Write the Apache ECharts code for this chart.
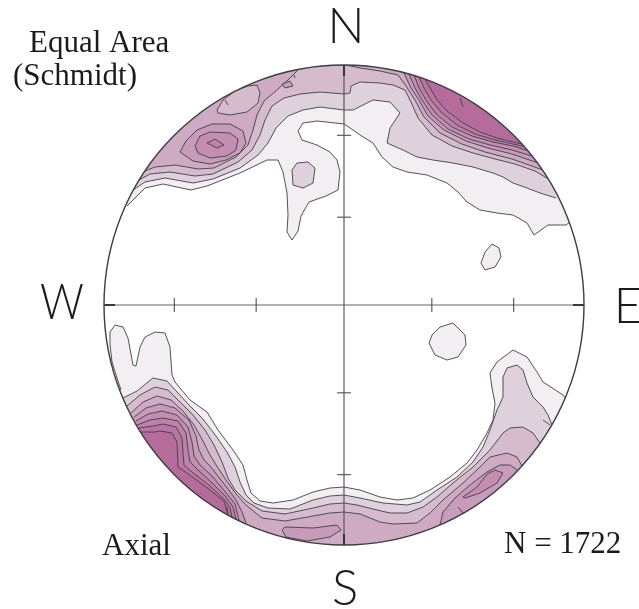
<!DOCTYPE html>
<html>
<head>
<meta charset="utf-8">
<script src="https://cdn.jsdelivr.net/npm/echarts@6/dist/echarts.min.js"></script>
<style>
  html, body { margin: 0; padding: 0; background: #ffffff; }
  #chart { width: 639px; height: 609px; }
</style>
</head>
<body>
<div id="chart"></div>
<script>
// Equal-area (Schmidt) net, lower hemisphere. Net coordinates: centre (0,0),
// primitive circle radius R, x toward E, y toward N.
const R = 240;

// Plunges marked on the N-S and E-W diameters.
const tickPlunges = [30, 60];

// Fill colours of the density levels, lowest to highest.
const levelColors = ['#f2eef2', '#dfd1db', '#d6bbcd', '#cfaac3', '#c99bba', '#c48db2', '#bf81aa', '#ba76a2', '#b56c9b'];
const lineColor = '#3d4146';

// ---- contour lines (net coordinates) ----
// Level 1
const n1 = [[-217,99],[-214,102],[-199,117],[-181,121],[-153,115],[-137,119],[-104,132],[-77,145],[-66,145],[-61,133],[-57,112],[-56,90],[-57,73],[-52,65],[-46,74],[-43,89],[-35,103],[-18,109],[-6,115],[-4,133],[-7,145],[-14,153],[-27,160],[-42,165],[-46,174],[-41,182],[-27,184],[-9,182],[0,181],[9,175],[16,170],[29,162],[38,148],[49,138],[63,133],[83,130],[103,122],[114,113],[123,103],[136,95],[153,92],[169,90],[183,82],[190,70],[204,80],[222,80],[226,83]];
const s1 = [[-223,-85],[-227,-73],[-232,-57],[-234,-40],[-234,-27],[-229,-20],[-221,-22],[-216,-33],[-211,-60],[-208,-61],[-204,-42],[-199,-32],[-189,-27],[-179,-28],[-174,-42],[-172,-70],[-169,-77],[-154,-95],[-137,-107],[-126,-125],[-111,-145],[-101,-160],[-97,-175],[-93,-188],[-84,-196],[-71,-198],[-51,-195],[-31,-187],[-14,-183],[0,-182],[16,-185],[36,-192],[53,-195],[69,-193],[86,-185],[106,-172],[123,-158],[133,-145],[143,-128],[149,-115],[151,-98],[148,-83],[146,-68],[153,-57],[169,-45],[183,-52],[193,-67],[199,-77],[219,-90],[223,-95]];
const ne1Isle = [[137,42],[141,53],[148,61],[155,57],[157,48],[151,38],[141,35]];
const e1Isle = [[85,-38],[88,-30],[96,-22],[109,-18],[121,-30],[122,-40],[114,-52],[103,-55],[91,-50]];
// Level 2
const n2 = [[-211,115],[-199,123],[-179,127],[-151,122],[-131,126],[-104,137],[-86,150],[-76,162],[-68,177],[-56,189],[-41,195],[-24,198],[0,195],[9,195],[29,205],[46,203],[56,192],[46,177],[43,162],[59,155],[73,148],[89,145],[109,142],[129,138],[149,132],[159,128],[169,122],[183,117],[196,112],[212,107]];
const s2 = [[-221,-93],[-207,-86],[-191,-73],[-177,-76],[-166,-88],[-154,-101],[-141,-114],[-128,-131],[-117,-147],[-109,-162],[-104,-177],[-98,-190],[-90,-198],[-76,-203],[-54,-204],[-31,-195],[-14,-191],[0,-190],[16,-193],[39,-198],[63,-200],[76,-197],[93,-185],[113,-172],[129,-157],[139,-142],[146,-125],[153,-105],[159,-92],[159,-72],[163,-63],[173,-60],[179,-65],[183,-78],[189,-92],[199,-102],[204,-110],[208,-120]];
const n2Isle = [[-52,135],[-47,142],[-36,143],[-29,137],[-31,122],[-41,117],[-51,120]];
// Level 3
const n3 = [[-205,125],[-194,131],[-174,133],[-149,129],[-131,131],[-106,143],[-92,155],[-84,170],[-79,185],[-72,199],[-60,207],[-44,211],[-24,213],[0,211],[6,212],[7,219],[16,223],[36,222],[49,220],[61,215],[67,203],[74,187],[88,170],[108,159],[129,152],[151,146],[171,141],[191,134],[206,125]];
const s3 = [[-217,-101],[-204,-90],[-189,-82],[-176,-85],[-164,-97],[-151,-110],[-139,-125],[-130,-140],[-122,-157],[-116,-173],[-109,-185],[-98,-196],[-82,-206],[-59,-209],[-31,-203],[-14,-199],[0,-198],[13,-200],[33,-205],[46,-208],[63,-208],[79,-202],[93,-192],[109,-178],[129,-162],[146,-145],[159,-128],[166,-123],[179,-122],[189,-128],[196,-138]];
const nw3Hollow = [[-127,195],[-121,205],[-109,214],[-96,219],[-87,220],[-84,212],[-86,202],[-97,193],[-114,190],[-126,192]];
// Level 4
const nw4 = [[-199,134],[-189,138],[-169,140],[-146,136],[-130,137],[-108,148],[-96,160],[-91,175],[-87,190],[-80,204],[-67,215],[-54,227],[-46,235]];
const ne4 = [[2,240],[16,237],[36,234],[54,230],[62,219],[71,205],[80,188],[96,172],[118,161],[141,153],[168,146],[199,135]];
const s4 = [[-213,-108],[-201,-97],[-187,-91],[-173,-95],[-161,-106],[-150,-120],[-141,-136],[-134,-150],[-126,-163],[-118,-175],[-108,-189],[-98,-200],[-82,-213],[-59,-216],[-31,-211],[-14,-208],[0,-207],[16,-209],[36,-217],[49,-219],[73,-218],[86,-208],[99,-195],[119,-178],[136,-162],[146,-152],[163,-148],[173,-152],[178,-161]];
// Level 5
const nw5 = [[-164,153],[-158,164],[-147,175],[-132,181],[-114,181],[-101,174],[-98,162],[-104,152],[-118,145],[-134,141],[-151,144]];
const nw5Isle = [[-62,221],[-54,224],[-51,219],[-59,217]];
const ne5 = [[60,232],[67,217],[75,205],[84,189],[100,175],[122,164],[144,157],[168,151],[197,141]];
const sw5 = [[-210,-112],[-198,-103],[-184,-99],[-169,-103],[-155,-115],[-148,-131],[-145,-145],[-140,-155],[-134,-161],[-130,-166],[-116,-184],[-108,-195],[-102,-207],[-98,-218]];
const s5Isle = [[-62,-225],[-59,-222],[-31,-223],[-7,-220],[-3,-225],[-14,-232],[-37,-236],[-58,-232]];
const se5 = [[96,-220],[99,-207],[111,-193],[126,-180],[143,-167],[156,-160],[166,-160],[173,-165]];
// Level 6
const nw6 = [[-149,159],[-144,169],[-134,173],[-114,172],[-106,166],[-108,155],[-117,149],[-134,147],[-146,152]];
const ne6 = [[65,231],[71,217],[78,205],[88,190],[104,176],[125,166],[146,160],[168,155],[194,147]];
const sw6 = [[-208,-116],[-196,-109],[-182,-106],[-167,-110],[-156,-122],[-152,-137],[-150,-151],[-144,-160],[-132,-171],[-117,-189],[-109,-199],[-105,-215]];
const se6 = [[119,-192],[133,-182],[143,-169],[151,-165],[159,-168],[153,-178],[136,-188],[121,-193]];
// Level 7
const nw7 = [[-137,162],[-129,166],[-120,160],[-127,157]];
const ne7 = [[70,230],[75,217],[82,205],[92,191],[108,178],[128,169],[149,163],[169,159],[191,152]];
const sw7 = [[-207,-120],[-194,-115],[-181,-113],[-166,-116],[-158,-128],[-156,-145],[-154,-157],[-147,-164],[-134,-176],[-118,-192],[-111,-202],[-108,-214]];
// Level 8
const ne8 = [[75,228],[80,217],[87,205],[97,193],[113,180],[131,171],[151,165],[169,161],[186,157]];
const sw8 = [[-205,-123],[-191,-121],[-181,-119],[-168,-122],[-162,-133],[-161,-147],[-160,-160],[-152,-167],[-134,-181],[-119,-195],[-114,-203],[-112,-212]];
// Level 9
const ne9 = [[81,226],[86,217],[93,205],[103,194],[119,182],[136,173],[153,167],[169,163],[182,160]];
const sw9 = [[-204,-127],[-189,-127],[-184,-126],[-172,-128],[-167,-137],[-166,-162],[-157,-168],[-134,-185],[-120,-196],[-116,-210]];

// Short contour pieces cut off by the grid
const fragments = [
  [[116,207],[119,198]],
  [[114,-202],[119,-208]],
  [[-117,-202],[-116,-208]],
  [[-119,205],[-116,200]],
  [[199,-115],[206,-120]],
  [[-50,230],[-49,227]]
];

// Draw order: lower levels first. Open lines end on the primitive circle.
const contours = [
  { pts: n1, level: 1, open: true },
  { pts: s1, level: 1, open: true },
  { pts: ne1Isle, level: 1 },
  { pts: e1Isle, level: 1 },
  { pts: n2, level: 2, open: true },
  { pts: s2, level: 2, open: true },
  { pts: n2Isle, level: 2 },
  { pts: n3, level: 3, open: true },
  { pts: s3, level: 3, open: true },
  { pts: nw4, level: 4, open: true },
  { pts: ne4, level: 4, open: true },
  { pts: s4, level: 4, open: true },
  { pts: nw3Hollow, level: 3 },
  { pts: nw5, level: 5 },
  { pts: nw5Isle, level: 5 },
  { pts: ne5, level: 5, open: true },
  { pts: sw5, level: 5, open: true },
  { pts: s5Isle, level: 5 },
  { pts: se5, level: 5, open: true },
  { pts: nw6, level: 6 },
  { pts: ne6, level: 6, open: true },
  { pts: sw6, level: 6, open: true },
  { pts: se6, level: 6 },
  { pts: nw7, level: 7 },
  { pts: ne7, level: 7, open: true },
  { pts: sw7, level: 7, open: true },
  { pts: ne8, level: 8, open: true },
  { pts: sw8, level: 8, open: true },
  { pts: ne9, level: 9, open: true },
  { pts: sw9, level: 9, open: true }
];

// Equal-area radius of a line with the given plunge.
function netRadius(plunge) {
  return R * Math.SQRT2 * Math.sin((90 - plunge) / 2 * Math.PI / 180);
}

function renderContour(params, api) {
  const c = contours[api.value(2)];
  const line = c.pts.map(p => api.coord(p));
  const fill = levelColors[c.level - 1];
  if (!c.open) {
    return { type: 'polygon', shape: { points: line },
      style: { fill: fill, stroke: lineColor, lineWidth: 0.9, lineJoin: 'round' } };
  }
  // close the region back along (just outside) the primitive circle
  const first = c.pts[0], last = c.pts[c.pts.length - 1];
  const a1 = Math.atan2(last[1], last[0]);
  const a0 = Math.atan2(first[1], first[0]);
  let d = a0 - a1;
  while (d > Math.PI) d -= 2 * Math.PI;
  while (d < -Math.PI) d += 2 * Math.PI;
  const n = Math.max(2, Math.ceil(Math.abs(d) / 0.02));
  const rim = [];
  for (let i = 0; i <= n; i++) {
    const a = a1 + d * i / n;
    rim.push(api.coord([(R + 3) * Math.cos(a), (R + 3) * Math.sin(a)]));
  }
  return {
    type: 'group',
    children: [
      { type: 'polygon', shape: { points: line.concat(rim) }, style: { fill: fill } },
      { type: 'polyline', shape: { points: line },
        style: { fill: 'none', stroke: lineColor, lineWidth: 0.9, lineJoin: 'round' } }
    ]
  };
}

function renderFragment(params, api) {
  const f = fragments[api.value(2)];
  return { type: 'polyline', shape: { points: f.map(p => api.coord(p)) },
    style: { fill: 'none', stroke: lineColor, lineWidth: 0.9 } };
}

function renderFrame(params, api) {
  const c = api.coord([0, 0]);
  const rp = api.size([R, 0])[0];
  const kids = [];
  // blank everything outside the primitive circle
  kids.push({ type: 'circle', shape: { cx: c[0], cy: c[1], r: rp + 149 },
    style: { fill: 'none', stroke: '#ffffff', lineWidth: 298 } });
  const w = api.coord([-R, 0]), e = api.coord([R, 0]);
  const n = api.coord([0, R]), s = api.coord([0, -R]);
  kids.push({ type: 'line', shape: { x1: w[0], y1: w[1], x2: e[0], y2: e[1] },
    style: { stroke: '#63676c', lineWidth: 1.1 } });
  kids.push({ type: 'line', shape: { x1: n[0], y1: n[1], x2: s[0], y2: s[1] },
    style: { stroke: '#4a4e53', lineWidth: 1.1 } });
  // heavier stubs where the diameters meet the circle
  const stub = R - 11;
  [[[-R, 0], [-stub, 0]], [[R, 0], [stub, 0]], [[0, R], [0, stub]], [[0, -R], [0, -stub]]].forEach(pair => {
    const p = api.coord(pair[0]), q = api.coord(pair[1]);
    kids.push({ type: 'line', shape: { x1: p[0], y1: p[1], x2: q[0], y2: q[1] },
      style: { stroke: '#2b2f34', lineWidth: 1.8 } });
  });
  // plunge ticks
  tickPlunges.forEach(pl => {
    const r = netRadius(pl);
    [-1, 1].forEach(sg => {
      const a = api.coord([sg * r, 0]);
      kids.push({ type: 'line', shape: { x1: a[0], y1: a[1] - 7, x2: a[0], y2: a[1] + 7 },
        style: { stroke: '#3a3e43', lineWidth: 1 } });
      const b = api.coord([0, sg * r]);
      kids.push({ type: 'line', shape: { x1: b[0] - 7, y1: b[1], x2: b[0] + 7, y2: b[1] },
        style: { stroke: '#3a3e43', lineWidth: 1 } });
    });
  });
  kids.push({ type: 'circle', shape: { cx: c[0], cy: c[1], r: rp },
    style: { fill: 'none', stroke: '#3a3e43', lineWidth: 1.4 } });
  return { type: 'group', children: kids };
}

const serif = '"Liberation Serif", "Times New Roman", serif';
const compassFont = 'Lato, Roboto, "Liberation Sans", sans-serif';

function label(text, x, y, font, size, weight, align, sx) {
  return {
    type: 'text', x: x, y: y, z: 100, scaleX: sx || 1,
    style: {
      text: text, fill: '#1b1b1b',
      font: weight + ' ' + size + 'px ' + font,
      align: align, textAlign: align,
      verticalAlign: 'middle', textVerticalAlign: 'middle'
    }
  };
}

const chart = echarts.init(document.getElementById('chart'), null, { renderer: 'canvas' });
chart.setOption({
  animation: false,
  backgroundColor: '#ffffff',
  grid: { left: 104, top: 65, width: 480, height: 480 },
  xAxis: { type: 'value', min: -R, max: R, show: false },
  yAxis: { type: 'value', min: -R, max: R, show: false },
  series: [
    { type: 'custom', coordinateSystem: 'cartesian2d', clip: false, silent: true, z: 2,
      renderItem: renderContour, data: contours.map((c, i) => [0, 0, i]) },
    { type: 'custom', coordinateSystem: 'cartesian2d', clip: false, silent: true, z: 3,
      renderItem: renderFragment, data: fragments.map((f, i) => [0, 0, i]) },
    { type: 'custom', coordinateSystem: 'cartesian2d', clip: false, silent: true, z: 4,
      renderItem: renderFrame, data: [[0, 0, 0]] }
  ],
  graphic: [
    label('N', 346, 27, compassFont, 49, 300, 'center'),
    label('S', 345, 589, compassFont, 49, 300, 'center'),
    label('W', 62, 303, compassFont, 49, 300, 'center', 0.88),
    label('E', 628, 307, compassFont, 49, 300, 'center'),
    label('Equal Area', 29, 43.5, serif, 31, 'normal', 'left'),
    label('(Schmidt)', 13, 77, serif, 31, 'normal', 'left'),
    label('Axial', 102, 547, serif, 31, 'normal', 'left'),
    label('N = 1722', 504, 545, serif, 31, 'normal', 'left')
  ]
});
</script>
</body>
</html>
